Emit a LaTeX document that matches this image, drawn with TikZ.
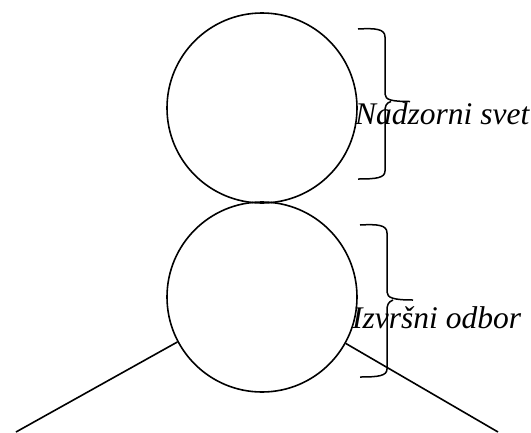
\documentclass[tikz,border=0pt]{standalone}
\usepackage{fontspec}
\setmainfont{Liberation Serif}
\begin{document}
\begin{tikzpicture}[x=1pt,y=-1pt,
  ring/.style={draw,circle,line width=1.6pt,minimum size=190pt,inner sep=0pt},
  edge/.style={line width=1.6pt},
  bracepath/.style={line width=1.5pt},
  lbl/.style={font=\fontsize{31.5}{36}\selectfont\itshape,inner sep=0pt,anchor=base west}]
\useasboundingbox (0,0) rectangle (531,432);
\node[ring] (top) at (262,108) {};
\node[ring] (bot) at (262,297) {};
\coordinate (lend) at (16,432);
\coordinate (rend) at (498,432);
\draw[edge] (bot.208) -- (lend);
\draw[edge] (bot.331) -- (rend);
% braces
\draw[bracepath] (358,29) .. controls (376,28) and (385,29) .. (385,37) -- (385,94)
  .. controls (385,100) and (392,101.5) .. (410,101.5)
  (391,101.5) .. controls (386,103) and (385,106) .. (385,112) -- (385,171)
  .. controls (385,178) and (376,179) .. (358,179);
\draw[bracepath] (360,225) .. controls (378,224) and (387,225) .. (387,233) -- (387,292)
  .. controls (387,298) and (394,300) .. (413,300)
  (393,300) .. controls (388,302) and (387,305) .. (387,311) -- (387,369)
  .. controls (387,376) and (378,377) .. (360,377);
\node[lbl] (ns) at (355,124) {Nadzorni svet};
\node[lbl] (io) at (352,328) {Izvršni odbor};
\end{tikzpicture}
\end{document}
